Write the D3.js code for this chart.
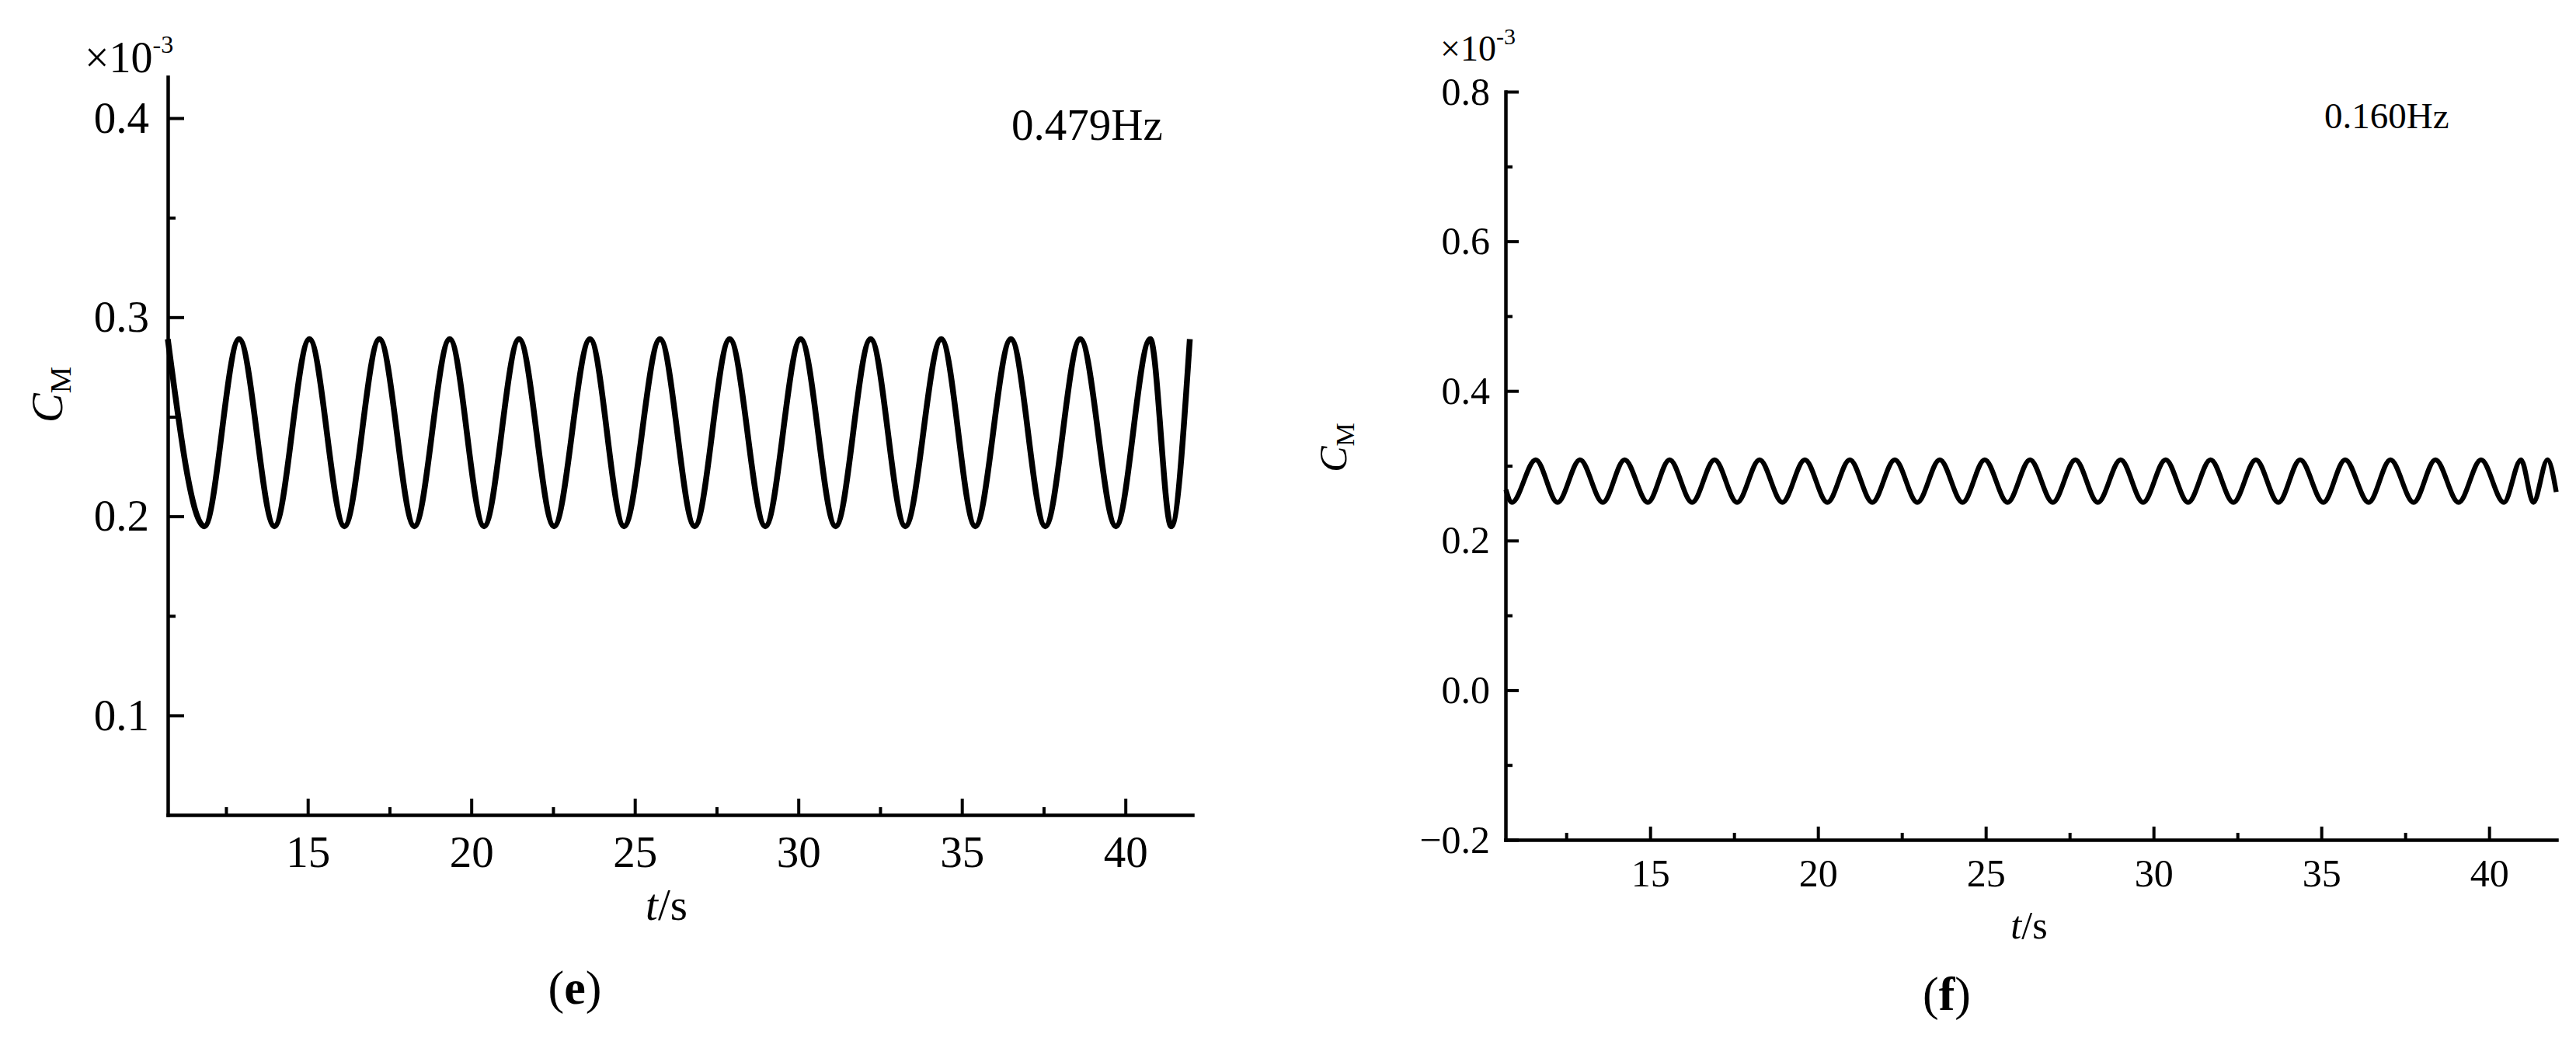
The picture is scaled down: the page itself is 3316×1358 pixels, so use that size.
<!DOCTYPE html>
<html>
<head>
<meta charset="utf-8">
<script src="https://cdn.jsdelivr.net/npm/d3@7"></script>
<style>
  body { margin: 0; background: #fff; }
  svg text { font-family: "Liberation Serif", "Times New Roman", serif; fill: #000; }
</style>
</head>
<body>
<div id="chart"></div>
<script>
const w = 3316;
const h = 1358;
const serif = "'Liberation Serif', 'Times New Roman', serif";

// panel (e): t in s, CM in 1e-3 (peaks and troughs)
const tE = [10.72, 11.84, 12.90, 13.98, 15.05, 16.12, 17.19, 18.26, 19.34, 20.39,
  21.46, 22.53, 23.63, 24.67, 25.77, 26.83, 27.90, 28.99, 30.07, 31.14,
  32.21, 33.27, 34.37, 35.41, 36.50, 37.55, 38.62, 39.71, 40.76, 41.40, 41.97];
const cmE = [0.289, 0.195, 0.289, 0.195, 0.289, 0.195, 0.289, 0.195, 0.289, 0.195,
  0.289, 0.195, 0.289, 0.195, 0.289, 0.195, 0.289, 0.195, 0.289, 0.195,
  0.289, 0.195, 0.289, 0.195, 0.289, 0.195, 0.289, 0.195, 0.289, 0.195, 0.289];
const yTicksE = [0.1, 0.2, 0.3, 0.4];
const yMinorE = [0.15, 0.25, 0.35];
const xTicksE = [15, 20, 25, 30, 35, 40];
const xMinorE = [12.5, 17.5, 22.5, 27.5, 32.5, 37.5];

// panel (f)
const tF = [10.70, 10.88, 11.59, 12.24, 12.91, 13.59, 14.24, 14.93, 15.58, 16.25,
  16.92, 17.59, 18.26, 18.94, 19.61, 20.28, 20.95, 21.62, 22.29, 22.96,
  23.63, 24.31, 24.97, 25.65, 26.32, 27.00, 27.67, 28.34, 29.02, 29.69,
  30.36, 31.03, 31.70, 32.38, 33.05, 33.72, 34.37, 35.06, 35.71, 36.41,
  37.06, 37.75, 38.40, 39.09, 39.76, 40.44, 40.95, 41.32, 41.74, 42.00];
const cmF = [0.268, 0.251, 0.308, 0.251, 0.308, 0.251, 0.308, 0.251, 0.308, 0.251,
  0.308, 0.251, 0.308, 0.251, 0.308, 0.251, 0.308, 0.251, 0.308, 0.251,
  0.308, 0.251, 0.308, 0.251, 0.308, 0.251, 0.308, 0.251, 0.308, 0.251,
  0.308, 0.251, 0.308, 0.251, 0.308, 0.251, 0.308, 0.251, 0.308, 0.251,
  0.308, 0.251, 0.308, 0.251, 0.308, 0.251, 0.308, 0.251, 0.308, 0.265];
const yTicksF = [-0.2, 0.0, 0.2, 0.4, 0.6, 0.8];
const yMinorF = [-0.1, 0.1, 0.3, 0.5, 0.7];
const xTicksF = [15, 20, 25, 30, 35, 40];
const xMinorF = [12.5, 17.5, 22.5, 27.5, 32.5, 37.5];

const svg = d3.select("#chart")
  .append("svg")
  .attr("width", w)
  .attr("height", h)
  .attr("font-family", serif);

svg.append("rect").attr("width", w).attr("height", h).attr("fill", "#fff");

const panels = [
  {
    t: tE, cm: cmE, yTicks: yTicksE, yMinor: yMinorE, xTicks: xTicksE, xMinor: xMinorE,
    xDomain: [10.72, 42.05], yDomain: [0.05, 0.4207],
    left: 216, right: 1535, top: 99, bottom: 1049,
    font: 57, major: 21, minor: 10, yPad: 24, xPad: 27, lineW: 7.5,
    freq: "0.479Hz", freqX: 1302, freqY: 180, freqFont: 57,
    expX: 109, expY: 93, expFont: 56, supFont: 32, supDy: -25,
    ylabX: 80, ylabY: 508, xlabX: 858, xlabY: 1184,
    tag: "e", tagX: 740, tagY: 1292
  },
  {
    t: tF, cm: cmF, yTicks: yTicksF, yMinor: yMinorF, xTicks: xTicksF, xMinor: xMinorF,
    xDomain: [10.69, 42.01], yDomain: [-0.2, 0.8],
    left: 1938, right: 3291, top: 118, bottom: 1081,
    font: 50, major: 17, minor: 9, yPad: 20, xPad: 24, lineW: 6.3,
    freq: "0.160Hz", freqX: 2992, freqY: 165, freqFont: 47,
    expX: 1854, expY: 78, expFont: 46, supFont: 30, supDy: -21,
    ylabX: 1733, ylabY: 576, xlabX: 2612, xlabY: 1208,
    tag: "f", tagX: 2506, tagY: 1300
  }
];

function styleAxis(a, p) {
  a.attr("font-size", p.font).attr("font-family", serif);
  a.selectAll("text").attr("font-family", serif);
  a.selectAll("line").attr("stroke", "#000").attr("stroke-width", 4);
  a.selectAll(".domain").attr("stroke", "#000").attr("stroke-width", 4.5).attr("stroke-linecap", "square");
}

panels.forEach(p => {
  const x = d3.scaleLinear().domain(p.xDomain).range([p.left, p.right]);
  const y = d3.scaleLinear().domain(p.yDomain).range([p.bottom, p.top]);
  const g = svg.append("g");

  // minor ticks
  g.append("g")
    .attr("transform", "translate(0," + p.bottom + ")")
    .call(d3.axisBottom(x).tickValues(p.xMinor).tickSize(-p.minor).tickFormat(""))
    .call(a => { a.select(".domain").remove(); styleAxis(a, p); });
  g.append("g")
    .attr("transform", "translate(" + p.left + ",0)")
    .call(d3.axisLeft(y).tickValues(p.yMinor).tickSize(-p.minor).tickFormat(""))
    .call(a => { a.select(".domain").remove(); styleAxis(a, p); });

  // major axes
  g.append("g")
    .attr("transform", "translate(0," + p.bottom + ")")
    .call(d3.axisBottom(x).tickValues(p.xTicks).tickSize(-p.major).tickSizeOuter(0)
      .tickPadding(p.xPad).tickFormat(d3.format("d")))
    .call(a => styleAxis(a, p));
  g.append("g")
    .attr("transform", "translate(" + p.left + ",0)")
    .call(d3.axisLeft(y).tickValues(p.yTicks).tickSize(-p.major).tickSizeOuter(0)
      .tickPadding(p.yPad).tickFormat(d3.format(".1f")))
    .call(a => styleAxis(a, p));

  // curve
  const line = d3.line()
    .x((d, i) => x(p.t[i]))
    .y(d => y(d))
    .curve(d3.curveMonotoneX);
  g.append("path")
    .datum(p.cm)
    .attr("d", line)
    .attr("fill", "none")
    .attr("stroke", "#000")
    .attr("stroke-width", p.lineW)
    .attr("stroke-linejoin", "round");

  // exponent
  const ex = g.append("text")
    .attr("x", p.expX).attr("y", p.expY)
    .attr("font-size", p.expFont)
    .text("\u00d710");
  ex.append("tspan").attr("dy", p.supDy).attr("font-size", p.supFont).text("-3");

  // frequency
  g.append("text")
    .attr("x", p.freqX).attr("y", p.freqY)
    .attr("font-size", p.freqFont)
    .text(p.freq);

  // y label
  const yl = g.append("text")
    .attr("transform", "translate(" + p.ylabX + "," + p.ylabY + ") rotate(-90)")
    .attr("text-anchor", "middle")
    .attr("font-size", p.font);
  yl.append("tspan").attr("font-style", "italic").text("C");
  yl.append("tspan").attr("font-size", p.font * 0.68).attr("dy", p.font * 0.2).text("M");

  // x label
  const xl = g.append("text")
    .attr("x", p.xlabX).attr("y", p.xlabY)
    .attr("text-anchor", "middle")
    .attr("font-size", p.font);
  xl.append("tspan").attr("font-style", "italic").text("t");
  xl.append("tspan").text("/s");

  // panel tag
  const tg = g.append("text")
    .attr("x", p.tagX).attr("y", p.tagY)
    .attr("text-anchor", "middle")
    .attr("font-size", 62);
  tg.append("tspan").text("(");
  tg.append("tspan").attr("font-weight", "bold").text(p.tag);
  tg.append("tspan").text(")");
});
</script>
</body>
</html>
